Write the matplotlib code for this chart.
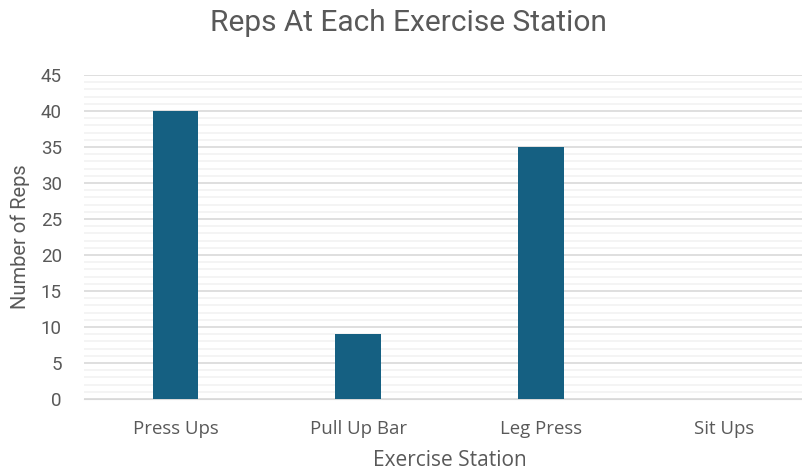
import matplotlib.pyplot as plt
from matplotlib.ticker import MultipleLocator

# Data.
stations = ['Press Ups', 'Pull Up Bar', 'Leg Press', 'Sit Ups']
reps = [40, 9, 35, 0]

plt.rcParams['font.family'] = ['Roboto', 'DejaVu Sans']
textColor = '#595959'
catFont = ['Open Sans', 'DejaVu Sans']

fig = plt.figure(figsize=(8.03, 4.72), dpi=100)
W, H = 803, 472
ax = fig.add_axes([84 / W, 1 - 399 / H, (815.5 - 84) / W, (399 - 75) / H])

x = list(range(len(stations)))
ax.bar(x, reps, width=0.25, color='#156082', zorder=3)

ax.set_xlim(-0.5, len(stations) - 0.5)
ax.set_ylim(0, 45)
ax.yaxis.set_major_locator(MultipleLocator(5))
ax.yaxis.set_minor_locator(MultipleLocator(1))
ax.grid(axis='y', which='major', color='#D9D9D9', linewidth=1.2, zorder=0)
ax.grid(axis='y', which='minor', color='#F2F2F2', linewidth=1.2, zorder=0)
ax.set_axisbelow(True)

ax.set_xticks(x)
ax.set_xticklabels(stations, family=catFont, fontsize=13.4)
ax.tick_params(axis='both', which='both', length=0, colors=textColor)
ax.tick_params(axis='y', labelsize=13.5, pad=16)
ax.tick_params(axis='x', pad=15)
for side in ['top', 'right', 'left']:
    ax.spines[side].set_visible(False)
ax.spines['bottom'].set_color('#D9D9D9')

ax.set_xlabel('Exercise Station', fontsize=15, family=catFont, color=textColor, labelpad=9)
ax.set_ylabel('Number of Reps', fontsize=14.5, color=textColor, labelpad=8)
fig.text(408 / W, 1 - 23 / H, 'Reps At Each Exercise Station', fontsize=21.5,
         color=textColor, ha='center', va='center')

fig.savefig('out.png', dpi=100)
